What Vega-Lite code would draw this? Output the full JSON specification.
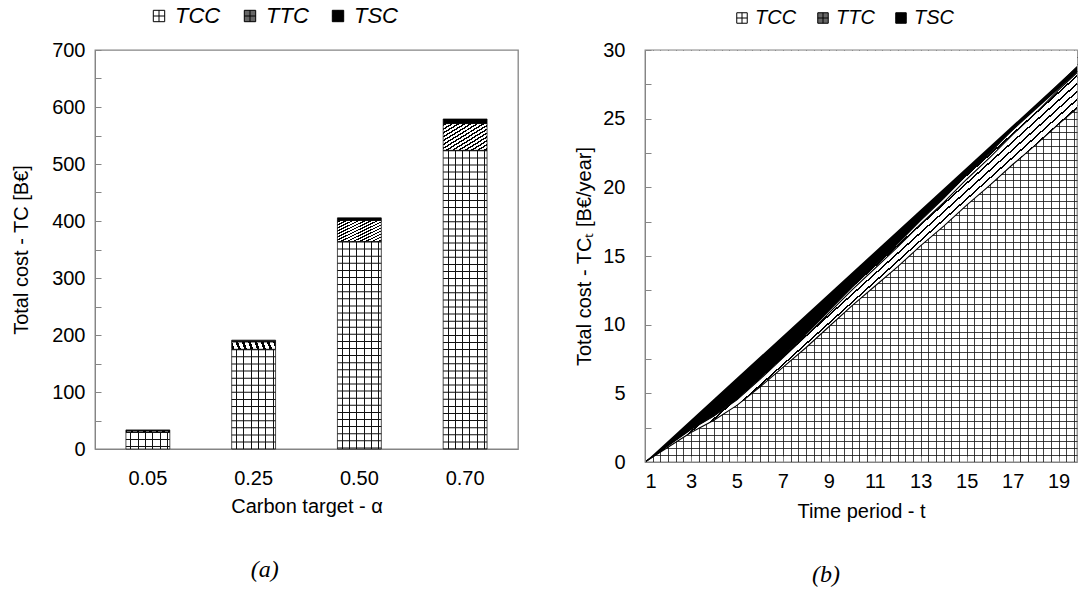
{
  "$schema": "https://vega.github.io/schema/vega-lite/v6.json",
  "background": "white",
  "padding": {"left": 10, "top": 4, "right": 0, "bottom": 0},
  "config": {
    "font": "Liberation Sans",
    "view": {"stroke": "#858585", "strokeWidth": 1.3},
    "axis": {"labelFont": "Liberation Sans", "titleFont": "Liberation Sans", "labelFontSize": 20, "titleFontSize": 20, "titleFontWeight": "normal", "labelColor": "#000", "titleColor": "#000", "domainColor": "#858585", "tickColor": "#858585", "grid": false},
    "title": {"font": "Liberation Serif", "fontSize": 24, "fontStyle": "italic", "fontWeight": "normal", "color": "#000"}
  },
  "datasets": {
    "bars": [
      {"alpha": "0.05", "component": "TCC", "value": 30},
      {"alpha": "0.05", "component": "TTC", "value": 2},
      {"alpha": "0.05", "component": "TSC", "value": 1.5},
      {"alpha": "0.25", "component": "TCC", "value": 175},
      {"alpha": "0.25", "component": "TTC", "value": 13},
      {"alpha": "0.25", "component": "TSC", "value": 3},
      {"alpha": "0.50", "component": "TCC", "value": 364},
      {"alpha": "0.50", "component": "TTC", "value": 37},
      {"alpha": "0.50", "component": "TSC", "value": 4.5},
      {"alpha": "0.70", "component": "TCC", "value": 524},
      {"alpha": "0.70", "component": "TTC", "value": 47},
      {"alpha": "0.70", "component": "TSC", "value": 8}
    ],
    "periods": [
      {"t": 1, "component": "TCC", "value": 0}, {"t": 1, "component": "TTC", "value": 0}, {"t": 1, "component": "TSC", "value": 0},
      {"t": 2, "component": "TCC", "value": 1.07}, {"t": 2, "component": "TTC", "value": 0.11}, {"t": 2, "component": "TSC", "value": 0.02},
      {"t": 3, "component": "TCC", "value": 2.15}, {"t": 3, "component": "TTC", "value": 0.22}, {"t": 3, "component": "TSC", "value": 0.03},
      {"t": 4, "component": "TCC", "value": 3.04}, {"t": 4, "component": "TTC", "value": 0.31}, {"t": 4, "component": "TSC", "value": 0.05},
      {"t": 5, "component": "TCC", "value": 4.12}, {"t": 5, "component": "TTC", "value": 0.41}, {"t": 5, "component": "TSC", "value": 0.07},
      {"t": 6, "component": "TCC", "value": 5.46}, {"t": 6, "component": "TTC", "value": 0.55}, {"t": 6, "component": "TSC", "value": 0.09},
      {"t": 7, "component": "TCC", "value": 6.89}, {"t": 7, "component": "TTC", "value": 0.69}, {"t": 7, "component": "TSC", "value": 0.12},
      {"t": 8, "component": "TCC", "value": 8.32}, {"t": 8, "component": "TTC", "value": 0.84}, {"t": 8, "component": "TSC", "value": 0.14},
      {"t": 9, "component": "TCC", "value": 9.85}, {"t": 9, "component": "TTC", "value": 0.99}, {"t": 9, "component": "TSC", "value": 0.16},
      {"t": 10, "component": "TCC", "value": 11.37}, {"t": 10, "component": "TTC", "value": 1.14}, {"t": 10, "component": "TSC", "value": 0.19},
      {"t": 11, "component": "TCC", "value": 12.8}, {"t": 11, "component": "TTC", "value": 1.29}, {"t": 11, "component": "TSC", "value": 0.21},
      {"t": 12, "component": "TCC", "value": 14.23}, {"t": 12, "component": "TTC", "value": 1.43}, {"t": 12, "component": "TSC", "value": 0.24},
      {"t": 13, "component": "TCC", "value": 15.75}, {"t": 13, "component": "TTC", "value": 1.58}, {"t": 13, "component": "TSC", "value": 0.27},
      {"t": 14, "component": "TCC", "value": 17.18}, {"t": 14, "component": "TTC", "value": 1.73}, {"t": 14, "component": "TSC", "value": 0.29},
      {"t": 15, "component": "TCC", "value": 18.71}, {"t": 15, "component": "TTC", "value": 1.88}, {"t": 15, "component": "TSC", "value": 0.31},
      {"t": 16, "component": "TCC", "value": 20.14}, {"t": 16, "component": "TTC", "value": 2.02}, {"t": 16, "component": "TSC", "value": 0.34},
      {"t": 17, "component": "TCC", "value": 21.66}, {"t": 17, "component": "TTC", "value": 2.18}, {"t": 17, "component": "TSC", "value": 0.36},
      {"t": 18, "component": "TCC", "value": 23.09}, {"t": 18, "component": "TTC", "value": 2.32}, {"t": 18, "component": "TSC", "value": 0.39},
      {"t": 19, "component": "TCC", "value": 24.61}, {"t": 19, "component": "TTC", "value": 2.48}, {"t": 19, "component": "TSC", "value": 0.41},
      {"t": 20, "component": "TCC", "value": 26.04}, {"t": 20, "component": "TTC", "value": 2.62}, {"t": 20, "component": "TSC", "value": 0.44}
    ]
  },
  "spacing": 55,
  "resolve": {"scale": {"fill": "independent"}, "legend": {"fill": "independent"}},
  "hconcat": [
    {
      "width": 423,
      "height": 399,
      "data": {"name": "bars"},
      "title": {"text": "(a)", "orient": "bottom", "anchor": "middle", "frame": "bounds", "offset": 42},
      "encoding": {
        "x": {"field": "alpha", "type": "ordinal", "scale": {"paddingInner": 0.585, "paddingOuter": 0.2925},
              "axis": {"title": "Carbon target - α", "labelAngle": 0, "ticks": false, "labelPadding": 19, "titlePadding": 8}}
      },
      "layer": [
        {
          "transform": [{"calculate": "indexof(['TCC', 'TTC', 'TSC'], datum.component)", "as": "ord"}],
          "mark": {"type": "bar", "stroke": "#000", "strokeWidth": 0.7},
          "encoding": {
            "y": {"field": "value", "type": "quantitative", "stack": "zero", "scale": {"domain": [0, 700], "nice": false},
                  "axis": {"values": [0, 50, 100, 150, 200, 250, 300, 350, 400, 450, 500, 550, 600, 650, 700], "labelExpr": "datum.value % 100 === 0 ? datum.label : ''", "title": "Total cost - TC [B€]", "tickSize": -6, "labelPadding": 16, "titlePadding": 20, "zindex": 1}},
            "order": {"field": "ord", "type": "quantitative"},
            "fill": {"field": "component", "type": "nominal",
                     "scale": {"domain": ["TCC", "TTC", "TSC"], "range": ["#ffffff", "#666666", "#000000"]},
                     "condition": [
                       {"test": "datum.component === 'TCC'", "value": {"gradient": "linear", "x1": 0, "y1": 0, "x2": 1, "y2": 0, "stops": [
                         {"offset": 0, "color": "#ffffff"},
                         {"offset": 0.099, "color": "#ffffff"}, {"offset": 0.099, "color": "#111111"}, {"offset": 0.122, "color": "#111111"}, {"offset": 0.122, "color": "#ffffff"},
                         {"offset": 0.266, "color": "#ffffff"}, {"offset": 0.266, "color": "#111111"}, {"offset": 0.289, "color": "#111111"}, {"offset": 0.289, "color": "#ffffff"},
                         {"offset": 0.432, "color": "#ffffff"}, {"offset": 0.432, "color": "#111111"}, {"offset": 0.455, "color": "#111111"}, {"offset": 0.455, "color": "#ffffff"},
                         {"offset": 0.599, "color": "#ffffff"}, {"offset": 0.599, "color": "#111111"}, {"offset": 0.622, "color": "#111111"}, {"offset": 0.622, "color": "#ffffff"},
                         {"offset": 0.766, "color": "#ffffff"}, {"offset": 0.766, "color": "#111111"}, {"offset": 0.789, "color": "#111111"}, {"offset": 0.789, "color": "#ffffff"},
                         {"offset": 0.932, "color": "#ffffff"}, {"offset": 0.932, "color": "#111111"}, {"offset": 0.955, "color": "#111111"}, {"offset": 0.955, "color": "#ffffff"},
                         {"offset": 1, "color": "#ffffff"}]}},
                       {"test": "datum.component === 'TTC'", "value": {"gradient": "linear", "x1": 0, "y1": 0, "x2": 1, "y2": 1, "stops": [
                         {"offset": 0, "color": "#ffffff"},
                         {"offset": 0.02, "color": "#ffffff"}, {"offset": 0.02, "color": "#000000"}, {"offset": 0.05, "color": "#000000"}, {"offset": 0.05, "color": "#ffffff"},
                         {"offset": 0.0914, "color": "#ffffff"}, {"offset": 0.0914, "color": "#000000"}, {"offset": 0.1214, "color": "#000000"}, {"offset": 0.1214, "color": "#ffffff"},
                         {"offset": 0.1629, "color": "#ffffff"}, {"offset": 0.1629, "color": "#000000"}, {"offset": 0.1929, "color": "#000000"}, {"offset": 0.1929, "color": "#ffffff"},
                         {"offset": 0.2343, "color": "#ffffff"}, {"offset": 0.2343, "color": "#000000"}, {"offset": 0.2643, "color": "#000000"}, {"offset": 0.2643, "color": "#ffffff"},
                         {"offset": 0.3057, "color": "#ffffff"}, {"offset": 0.3057, "color": "#000000"}, {"offset": 0.3357, "color": "#000000"}, {"offset": 0.3357, "color": "#ffffff"},
                         {"offset": 0.3771, "color": "#ffffff"}, {"offset": 0.3771, "color": "#000000"}, {"offset": 0.4071, "color": "#000000"}, {"offset": 0.4071, "color": "#ffffff"},
                         {"offset": 0.4486, "color": "#ffffff"}, {"offset": 0.4486, "color": "#000000"}, {"offset": 0.4786, "color": "#000000"}, {"offset": 0.4786, "color": "#ffffff"},
                         {"offset": 0.52, "color": "#ffffff"}, {"offset": 0.52, "color": "#000000"}, {"offset": 0.55, "color": "#000000"}, {"offset": 0.55, "color": "#ffffff"},
                         {"offset": 0.5914, "color": "#ffffff"}, {"offset": 0.5914, "color": "#000000"}, {"offset": 0.6214, "color": "#000000"}, {"offset": 0.6214, "color": "#ffffff"},
                         {"offset": 0.6629, "color": "#ffffff"}, {"offset": 0.6629, "color": "#000000"}, {"offset": 0.6929, "color": "#000000"}, {"offset": 0.6929, "color": "#ffffff"},
                         {"offset": 0.7343, "color": "#ffffff"}, {"offset": 0.7343, "color": "#000000"}, {"offset": 0.7643, "color": "#000000"}, {"offset": 0.7643, "color": "#ffffff"},
                         {"offset": 0.8057, "color": "#ffffff"}, {"offset": 0.8057, "color": "#000000"}, {"offset": 0.8357, "color": "#000000"}, {"offset": 0.8357, "color": "#ffffff"},
                         {"offset": 0.8771, "color": "#ffffff"}, {"offset": 0.8771, "color": "#000000"}, {"offset": 0.9071, "color": "#000000"}, {"offset": 0.9071, "color": "#ffffff"},
                         {"offset": 0.9486, "color": "#ffffff"}, {"offset": 0.9486, "color": "#000000"}, {"offset": 0.9786, "color": "#000000"}, {"offset": 0.9786, "color": "#ffffff"},
                         {"offset": 1, "color": "#ffffff"}]}}
                     ],
                     "legend": {"title": null, "orient": "none", "direction": "horizontal", "legendX": 53, "legendY": -45,
                                "symbolType": "M-1,-1H1V1H-1Z M0,-1V1 M-1,0H1", "symbolSize": 130, "symbolStrokeColor": "#000", "symbolStrokeWidth": 1,
                                "labelFontSize": 22, "labelFontStyle": "italic", "labelFont": "Liberation Sans", "labelColor": "#000", "columnPadding": 18, "labelOffset": 5}}
          }
        },
        {
          "transform": [{"filter": "datum.component === 'TCC'"}],
          "mark": {"type": "rule", "strokeWidth": 43.9, "strokeDash": [1, 6.1], "color": "#111111"},
          "encoding": {
            "y": {"field": "value", "type": "quantitative", "scale": {"domain": [0, 700], "nice": false},
                  "axis": {"values": [0, 50, 100, 150, 200, 250, 300, 350, 400, 450, 500, 550, 600, 650, 700], "labelExpr": "datum.value % 100 === 0 ? datum.label : ''", "title": "Total cost - TC [B€]", "tickSize": -6, "labelPadding": 16, "titlePadding": 20, "zindex": 1}},
            "y2": {"datum": 0}
          }
        }
      ]
    },
    {
      "width": 432,
      "height": 412,
      "data": {"name": "periods"},
      "title": {"text": "(b)", "orient": "bottom", "anchor": "middle", "frame": "bounds", "offset": 42},
      "resolve": {"axis": {"x": "independent", "y": "independent"}},
      "layer": [
        {
          "transform": [{"aggregate": [{"op": "sum", "field": "value", "as": "total"}], "groupby": ["t"]}],
          "mark": {"type": "area", "color": "#ffffff", "opacity": 1, "clip": true},
          "encoding": {
            "x": {"field": "t", "type": "quantitative", "scale": {"domain": [1, 19.8], "nice": false},
                  "axis": {"orient": "bottom", "values": [1, 3, 5, 7, 9, 11, 13, 15, 17, 19], "title": "Time period - t", "tickSize": -6, "labelPadding": 15, "titlePadding": 10, "zindex": 1}},
            "y": {"field": "total", "type": "quantitative", "scale": {"domain": [0, 30], "nice": false},
                  "axis": {"orient": "left", "values": [0, 2.5, 5, 7.5, 10, 12.5, 15, 17.5, 20, 22.5, 25, 27.5, 30], "labelExpr": "datum.value % 5 === 0 ? datum.label : ''",
                           "title": "Total cost - TCₜ [B€/year]", "tickSize": -6, "labelPadding": 26, "titlePadding": 8, "zindex": 1}},
            "y2": {"datum": 29.95}
          }
        },
        {
          "transform": [{"calculate": "indexof(['TCC', 'TTC', 'TSC'], datum.component)", "as": "ord"}],
          "mark": {"type": "area", "opacity": 1, "clip": true, "line": {"color": "#000", "strokeWidth": 1.1}},
          "encoding": {
            "x": {"field": "t", "type": "quantitative", "scale": {"domain": [1, 19.8], "nice": false},
                  "axis": {"orient": "top", "values": [1.3333, 1.6667, 2, 2.3333, 2.6667, 3, 3.3333, 3.6667, 4, 4.3333, 4.6667, 5, 5.3333, 5.6667, 6, 6.3333, 6.6667, 7, 7.3333, 7.6667, 8, 8.3333, 8.6667, 9, 9.3333, 9.6667, 10, 10.3333, 10.6667, 11, 11.3333, 11.6667, 12, 12.3333, 12.6667, 13, 13.3333, 13.6667, 14, 14.3333, 14.6667, 15, 15.3333, 15.6667, 16, 16.3333, 16.6667, 17, 17.3333, 17.6667, 18, 18.3333, 18.6667, 19, 19.3333, 19.6667],
                           "grid": true, "gridColor": "#111111", "gridWidth": 1, "gridOpacity": 0.8, "labels": false, "ticks": false, "domain": false, "title": null, "zindex": 0}},
            "y": {"field": "value", "type": "quantitative", "stack": "zero", "scale": {"domain": [0, 30], "nice": false},
                  "axis": {"orient": "right", "values": [0.5, 1, 1.5, 2, 2.5, 3, 3.5, 4, 4.5, 5, 5.5, 6, 6.5, 7, 7.5, 8, 8.5, 9, 9.5, 10, 10.5, 11, 11.5, 12, 12.5, 13, 13.5, 14, 14.5, 15, 15.5, 16, 16.5, 17, 17.5, 18, 18.5, 19, 19.5, 20, 20.5, 21, 21.5, 22, 22.5, 23, 23.5, 24, 24.5, 25, 25.5, 26, 26.5, 27, 27.5, 28, 28.5, 29, 29.5],
                           "grid": true, "gridColor": "#111111", "gridWidth": 1, "gridOpacity": 0.8, "labels": false, "ticks": false, "domain": false, "title": null, "zindex": 0}},
            "order": {"field": "ord", "type": "quantitative"},
            "fill": {"field": "component", "type": "nominal",
                     "scale": {"domain": ["TCC", "TTC", "TSC"], "range": ["transparent", "#666666", "#000000"]},
                     "condition": [
                       {"test": "datum.component === 'TTC'", "value": {"gradient": "linear", "x1": 0, "y1": 0, "x2": 1, "y2": 1, "stops": [
                         {"offset": 0, "color": "#ffffff"},
                         {"offset": 0.503, "color": "#ffffff"}, {"offset": 0.503, "color": "#000000"}, {"offset": 0.5055, "color": "#000000"}, {"offset": 0.5055, "color": "#ffffff"},
                         {"offset": 0.513, "color": "#ffffff"}, {"offset": 0.513, "color": "#000000"}, {"offset": 0.5155, "color": "#000000"}, {"offset": 0.5155, "color": "#ffffff"},
                         {"offset": 0.523, "color": "#ffffff"}, {"offset": 0.523, "color": "#000000"}, {"offset": 0.5255, "color": "#000000"}, {"offset": 0.5255, "color": "#ffffff"},
                         {"offset": 0.533, "color": "#ffffff"}, {"offset": 0.533, "color": "#000000"}, {"offset": 0.5355, "color": "#000000"}, {"offset": 0.5355, "color": "#ffffff"},
                         {"offset": 0.543, "color": "#ffffff"}, {"offset": 0.543, "color": "#000000"}, {"offset": 0.5455, "color": "#000000"}, {"offset": 0.5455, "color": "#ffffff"},
                         {"offset": 0.553, "color": "#ffffff"}, {"offset": 0.553, "color": "#000000"}, {"offset": 0.5555, "color": "#000000"}, {"offset": 0.5555, "color": "#ffffff"},
                         {"offset": 1, "color": "#ffffff"}]}}
                     ],
                     "legend": {"title": null, "orient": "none", "direction": "horizontal", "legendX": 87, "legendY": -42,
                                "symbolType": "M-1,-1H1V1H-1Z M0,-1V1 M-1,0H1", "symbolSize": 110, "symbolStrokeColor": "#000", "symbolStrokeWidth": 1,
                                "labelFontSize": 20, "labelFontStyle": "italic", "labelFont": "Liberation Sans", "labelColor": "#000", "columnPadding": 16, "labelOffset": 3}}
          }
        }
      ]
    }
  ]
}
